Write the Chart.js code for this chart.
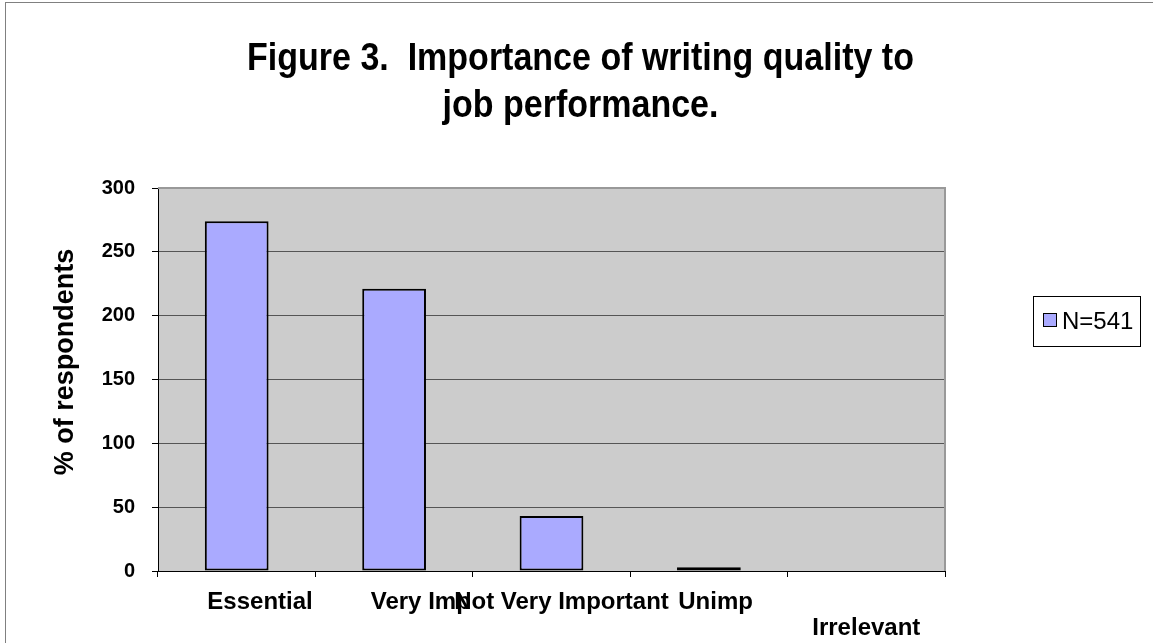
<!DOCTYPE html>
<html>
<head>
<meta charset="utf-8">
<title>Figure 3</title>
<script src="https://cdn.jsdelivr.net/npm/chart.js@4/dist/chart.umd.min.js"></script>
<style>
    html, body { margin: 0; padding: 0; background: #fff; }
    #wrap { width: 1153px; height: 643px; }
</style>
</head>
<body>
<div id="wrap"><canvas id="fig3" width="1153" height="643"></canvas></div>
<script>
/* =========================
   DATA
========================= */

const categories = ["Essential", "Very Imp", "Not Very Important", "Unimp", "Irrelevant"];
const respondents = [274, 221, 43, 3, 0];
const yTicks = [0, 50, 100, 150, 200, 250, 300];
const seriesName = "N=541";
const titleLines = ["Figure 3.  Importance of writing quality to", "job performance."];
const yTitle = "% of respondents";

const FONT = "'Liberation Sans', Arial, sans-serif";
const BAR_FILL = "#AAAAFF";

// Excel pushed some category labels right of their slot (in spaces)
const labelNudge = [7, 8, 3, 2, 0];

/* =========================
   EXCEL LOOK (plot fill, frame, title, legend)
========================= */

const excelLook = {
    id: "excelLook",

    beforeDraw(chart) {
        const ctx = chart.ctx;
        const a = chart.chartArea;

        ctx.save();
        ctx.fillStyle = "#fff";
        ctx.fillRect(0, 0, chart.width, chart.height);

        // outer frame
        ctx.strokeStyle = "#808080";
        ctx.lineWidth = 1;
        ctx.strokeRect(5.5, 2.5, chart.width + 20, chart.height + 20);

        // plot area
        ctx.fillStyle = "#CCCCCC";
        ctx.fillRect(a.left, a.top, a.right - a.left, a.bottom - a.top);
        ctx.restore();
    },

    afterDraw(chart) {
        const ctx = chart.ctx;
        const a = chart.chartArea;

        ctx.save();

        // plot border top / right
        ctx.strokeStyle = "#999";
        ctx.lineWidth = 2;
        ctx.beginPath();
        ctx.moveTo(a.left, a.top);
        ctx.lineTo(a.right, a.top);
        ctx.lineTo(a.right, a.bottom);
        ctx.stroke();

        // chart title, centred on the whole figure
        ctx.fillStyle = "#000";
        ctx.font = "bold 34px " + FONT;
        ctx.textAlign = "center";
        ctx.textBaseline = "alphabetic";
        titleLines.forEach((line, i) => {
            ctx.save();
            ctx.translate(chart.width / 2 + 4, 70 + i * 47);
            ctx.scale(1, 1.12);
            ctx.fillText(line, 0, 0);
            ctx.restore();
        });

        // y axis title
        ctx.font = "bold 27px " + FONT;
        ctx.textBaseline = "middle";
        ctx.translate(66, 362);
        ctx.rotate(-Math.PI / 2);
        ctx.fillText(yTitle, 0, 0);
        ctx.restore();

        // legend box
        ctx.save();
        const lx = 1033, ly = 296, lw = 107, lh = 50;
        ctx.fillStyle = "#fff";
        ctx.fillRect(lx, ly, lw, lh);
        ctx.strokeStyle = "#000";
        ctx.lineWidth = 1;
        ctx.strokeRect(lx + 0.5, ly + 0.5, lw, lh);

        ctx.fillStyle = chart.data.datasets[0].backgroundColor;
        ctx.fillRect(lx + 10.5, ly + 17.5, 13, 13);
        ctx.strokeRect(lx + 10.5, ly + 17.5, 13, 13);

        ctx.fillStyle = "#000";
        ctx.font = "24px " + FONT;
        ctx.textAlign = "left";
        ctx.textBaseline = "middle";
        ctx.fillText(chart.data.datasets[0].label, lx + 29, ly + 26);
        ctx.restore();
    }
};

/* =========================
   CHART
========================= */

new Chart(document.getElementById("fig3"), {

    type: "bar",

    data: {
        labels: categories,
        datasets: [{
            label: seriesName,
            data: respondents,
            backgroundColor: BAR_FILL,
            borderColor: "#000",
            borderWidth: 2,
            borderSkipped: false,
            barPercentage: 0.405,
            categoryPercentage: 1
        }]
    },

    options: {
        responsive: false,
        animation: false,

        layout: {
            padding: { left: 0, right: 208, top: 188, bottom: 0 }
        },

        plugins: {
            legend: { display: false },
            tooltip: { enabled: false },
            title: { display: false }
        },

        scales: {
            x: {
                afterFit(scale) { scale.height = 72; },
                grid: {
                    offset: true,
                    drawOnChartArea: false,
                    tickLength: 6,
                    color: "#000"
                },
                border: { color: "#000", width: 1 },
                ticks: {
                    color: "#000",
                    autoSkip: false,
                    minRotation: 0,
                    maxRotation: 0,
                    padding: 12,
                    font: { family: FONT, size: 24, weight: "bold", lineHeight: 1.08 },
                    // Excel staggered the last label onto a second row
                    callback: function (value, index) {
                        const name = " ".repeat(labelNudge[index]) + categories[index];
                        return index === categories.length - 1 ? ["", name] : name;
                    }
                }
            },

            y: {
                min: yTicks[0],
                max: yTicks[yTicks.length - 1],
                afterFit(scale) { scale.width = 158; },
                grid: {
                    color: "#555",
                    tickLength: 6,
                    tickColor: "#000"
                },
                border: { color: "#000", width: 1 },
                ticks: {
                    stepSize: yTicks[1] - yTicks[0],
                    color: "#000",
                    padding: 17,
                    font: { family: FONT, size: 20, weight: "bold" }
                }
            }
        }
    },

    plugins: [excelLook]
});
</script>
</body>
</html>
